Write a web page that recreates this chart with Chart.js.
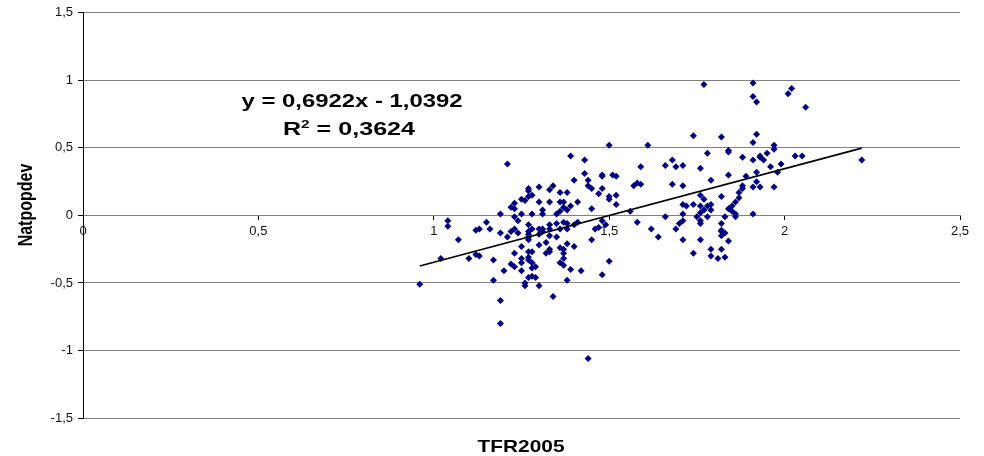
<!DOCTYPE html>
<html>
<head>
<meta charset="utf-8">
<script src="https://cdn.jsdelivr.net/npm/chart.js@4.4.1/dist/chart.umd.min.js"></script>
<style>
  html, body { margin: 0; padding: 0; background: #fff; }
  #wrap { width: 984px; height: 456px; }
</style>
</head>
<body>
<div id="wrap"><canvas id="chart" width="984" height="456"></canvas></div>
<script>
// === data ===
const tfr2005 = [
    0.96, 1.02, 1.04, 1.04, 1.07, 1.10, 1.12, 1.13, 1.12, 1.13,
    1.15, 1.16, 1.17, 1.17, 1.19, 1.19, 1.19, 1.19, 1.20, 1.21,
    1.21, 1.22, 1.22, 1.22, 1.23, 1.23, 1.23, 1.23, 1.23, 1.23,
    1.24, 1.24, 1.25, 1.25, 1.25, 1.25, 1.25, 1.25, 1.26, 1.26,
    1.26, 1.27, 1.27, 1.27, 1.27, 1.27, 1.27, 1.27, 1.27, 1.27,
    1.27, 1.27, 1.28, 1.28, 1.28, 1.28, 1.28, 1.28, 1.28, 1.27,
    1.29, 1.29, 1.30, 1.30, 1.30, 1.30, 1.30, 1.30, 1.31, 1.31,
    1.31, 1.31, 1.32, 1.32, 1.33, 1.33, 1.33, 1.33, 1.33, 1.33,
    1.33, 1.34, 1.34, 1.35, 1.35, 1.35, 1.36, 1.36, 1.36, 1.36,
    1.36, 1.36, 1.37, 1.37, 1.37, 1.37, 1.37, 1.37, 1.37, 1.38,
    1.38, 1.38, 1.38, 1.38, 1.38, 1.39, 1.39, 1.39, 1.40, 1.40,
    1.40, 1.41, 1.41, 1.42, 1.43, 1.43, 1.44, 1.44, 1.44, 1.45,
    1.45, 1.45, 1.46, 1.47, 1.47, 1.48, 1.48, 1.48, 1.48, 1.48,
    1.49, 1.50, 1.50, 1.50, 1.50, 1.51, 1.52, 1.52, 1.52, 1.56,
    1.57, 1.58, 1.58, 1.59, 1.59, 1.61, 1.62, 1.64, 1.66, 1.66,
    1.68, 1.68, 1.69, 1.69, 1.70, 1.71, 1.71, 1.71, 1.71, 1.71,
    1.71, 1.72, 1.74, 1.74, 1.74, 1.75, 1.76, 1.76, 1.76, 1.76,
    1.76, 1.76, 1.76, 1.77, 1.77, 1.77, 1.78, 1.78, 1.78, 1.79,
    1.79, 1.79, 1.79, 1.79, 1.81, 1.82, 1.82, 1.82, 1.82, 1.82,
    1.82, 1.82, 1.83, 1.83, 1.83, 1.84, 1.84, 1.84, 1.84, 1.84,
    1.85, 1.85, 1.86, 1.86, 1.86, 1.87, 1.87, 1.88, 1.88, 1.88,
    1.89, 1.91, 1.91, 1.91, 1.91, 1.91, 1.91, 1.92, 1.92, 1.92,
    1.92, 1.93, 1.93, 1.93, 1.94, 1.95, 1.96, 1.97, 1.97, 1.97,
    1.98, 1.99, 2.01, 2.02, 2.03, 2.05, 2.06, 2.22
];
const natpopdev = [
    -0.51, -0.32, -0.04, -0.08, -0.18, -0.32, -0.29, -0.30, -0.11, -0.10,
    -0.05, -0.10, -0.33, -0.48, -0.63, -0.80, 0.01, -0.13, -0.41, 0.38,
    -0.16, -0.36, 0.06, -0.12, 0.09, 0.05, -0.01, -0.10, -0.28, -0.38,
    -0.04, -0.13, 0.01, -0.23, -0.32, -0.35, -0.41, 0.12, -0.50, -0.52,
    0.11, 0.14, 0.20, 0.18, -0.12, -0.14, -0.27, -0.46, -0.07, -0.18,
    -0.31, -0.33, 0.15, 0.01, -0.10, -0.27, -0.35, -0.39, -0.45, -0.16,
    -0.38, -0.46, 0.21, 0.10, -0.10, -0.14, -0.22, -0.52, 0.04, 0.01,
    -0.10, -0.12, -0.20, -0.28, 0.19, 0.10, -0.07, -0.10, -0.15, -0.25,
    -0.27, -0.60, 0.22, 0.01, -0.06, -0.16, 0.17, 0.10, 0.03, -0.10,
    -0.24, -0.35, 0.06, 0.10, -0.05, -0.25, -0.28, -0.32, -0.37, 0.17,
    0.04, -0.06, -0.10, -0.21, -0.48, 0.44, 0.07, -0.40, 0.26, -0.07,
    -0.23, 0.10, -0.05, -0.41, 0.41, 0.31, 0.22, 0.26, -1.06, 0.20,
    0.05, -0.18, -0.10, 0.16, -0.09, 0.30, 0.29, 0.20, -0.04, -0.44,
    -0.07, 0.52, 0.14, 0.12, -0.34, 0.30, 0.29, 0.15, 0.08, 0.03,
    0.22, 0.24, -0.05, 0.36, 0.23, 0.52, -0.10, -0.16, 0.37, -0.01,
    0.41, 0.23, 0.36, -0.10, -0.06, 0.37, 0.22, 0.08, 0.01, -0.04,
    -0.18, 0.07, 0.59, 0.08, -0.28, -0.01, 0.15, 0.02, 0.35, 0.07,
    -0.04, -0.06, -0.18, 0.97, 0.12, 0.04, 0.46, 0.07, -0.01, 0.26,
    0.08, 0.04, -0.25, -0.30, -0.32, 0.58, 0.14, -0.06, -0.11, -0.12,
    -0.15, -0.25, -0.01, -0.13, -0.31, 0.48, 0.47, 0.30, 0.05, -0.19,
    0.07, 0.03, 0.01, 0.10, -0.01, 0.13, 0.17, 0.43, 0.22, 0.20,
    0.29, 0.98, 0.88, 0.54, 0.41, 0.21, 0.01, 0.84, 0.60, 0.32,
    0.25, 0.43, 0.44, 0.21, 0.41, 0.46, 0.36, 0.52, 0.21, 0.49,
    0.32, 0.38, 0.90, 0.94, 0.44, 0.44, 0.80, 0.41
];

// trend line end points
const trendX = [0.96, 2.22];
const trendY = [-0.375, 0.498];

const equationText = "y = 0,6922x - 1,0392";
const r2Text = "0,3624";
const xTitle = "TFR2005";
const yTitle = "Natpopdev";

const FONT = "'Liberation Sans', Arial, sans-serif";
Chart.defaults.font.family = FONT;

const commaLabel = v => String(v).replace(".", ",");

// === text drawn on top, stretched like the original ===
function drawFitted(ctx, text, cx, baseline, width, font) {
    ctx.save();
    ctx.font = font;
    const w = ctx.measureText(text).width;
    ctx.translate(cx, baseline);
    ctx.scale(width / w, 1);
    ctx.textAlign = "center";
    ctx.textBaseline = "alphabetic";
    ctx.fillStyle = "#000";
    ctx.fillText(text, 0, 0);
    ctx.restore();
}

const textPlugin = {
    id: "texts",
    afterDraw(chart) {
        const ctx = chart.ctx;

        drawFitted(ctx, equationText, 352, 107, 221, "bold 18px " + FONT);
        drawFitted(ctx, xTitle, 521, 452, 87, "bold 17px " + FONT);

        // R² line
        ctx.save();
        const big = "bold 18px " + FONT;
        const small = "bold 11px " + FONT;
        ctx.font = big;
        const wR = ctx.measureText("R").width;
        const wRest = ctx.measureText(" = " + r2Text).width;
        ctx.font = small;
        const w2 = ctx.measureText("2").width;
        const total = wR + w2 + wRest;
        const sx = 132 / total;
        ctx.translate(349 - 66, 135);
        ctx.scale(sx, 1);
        ctx.fillStyle = "#000";
        ctx.textBaseline = "alphabetic";
        ctx.textAlign = "left";
        ctx.font = big;
        ctx.fillText("R", 0, 0);
        ctx.font = small;
        ctx.fillText("2", wR, -7);
        ctx.font = big;
        ctx.fillText(" = " + r2Text, wR + w2, 0);
        ctx.restore();

        // y title
        ctx.save();
        ctx.font = "bold 16px " + FONT;
        ctx.translate(32, 205);
        ctx.rotate(-Math.PI / 2);
        ctx.scale(1, 1.25);
        ctx.textAlign = "center";
        ctx.textBaseline = "alphabetic";
        ctx.fillStyle = "#000";
        ctx.fillText(yTitle, 0, 0);
        ctx.restore();
    }
};

const points = tfr2005.map((x, i) => ({ x, y: natpopdev[i] }));
const trend = trendX.map((x, i) => ({ x, y: trendY[i] }));

const ctx = document.getElementById("chart").getContext("2d");
new Chart(ctx, {
    type: "scatter",
    data: {
        datasets: [
            {
                type: "line",
                data: trend,
                borderColor: "#000",
                borderWidth: 1.6,
                pointRadius: 0,
                fill: false,
                order: 0,
            },
            {
                data: points,
                pointStyle: "rectRot",
                pointRadius: 3.5,
                backgroundColor: "#000080",
                borderColor: "#000080",
                borderWidth: 0,
                order: 1,
            }
        ]
    },
    options: {
        responsive: false,
        animation: false,
        layout: { padding: { left: 0, right: 24, top: 10, bottom: 38 } },
        plugins: {
            legend: { display: false },
            tooltip: { enabled: false }
        },
        scales: {
            x: {
                type: "linear",
                min: 0,
                max: 2.5,
                position: { y: 0 },
                ticks: {
                    stepSize: 0.5,
                    callback: commaLabel,
                    color: "#111",
                    font: { size: 13 },
                    padding: 4,
                    maxRotation: 0,
                },
                grid: { drawOnChartArea: false, tickLength: 4, tickColor: "#000" },
                border: { color: "#808080" },
            },
            y: {
                min: -1.5,
                max: 1.5,
                ticks: {
                    stepSize: 0.5,
                    callback: commaLabel,
                    color: "#111",
                    font: { size: 13 },
                    padding: 5,
                },
                grid: { color: "#808080", tickLength: 5, tickColor: "#000" },
                border: { color: "#000" },
                afterFit(scale) { scale.width = 83; },
            }
        }
    },
    plugins: [textPlugin]
});
</script>
</body>
</html>
